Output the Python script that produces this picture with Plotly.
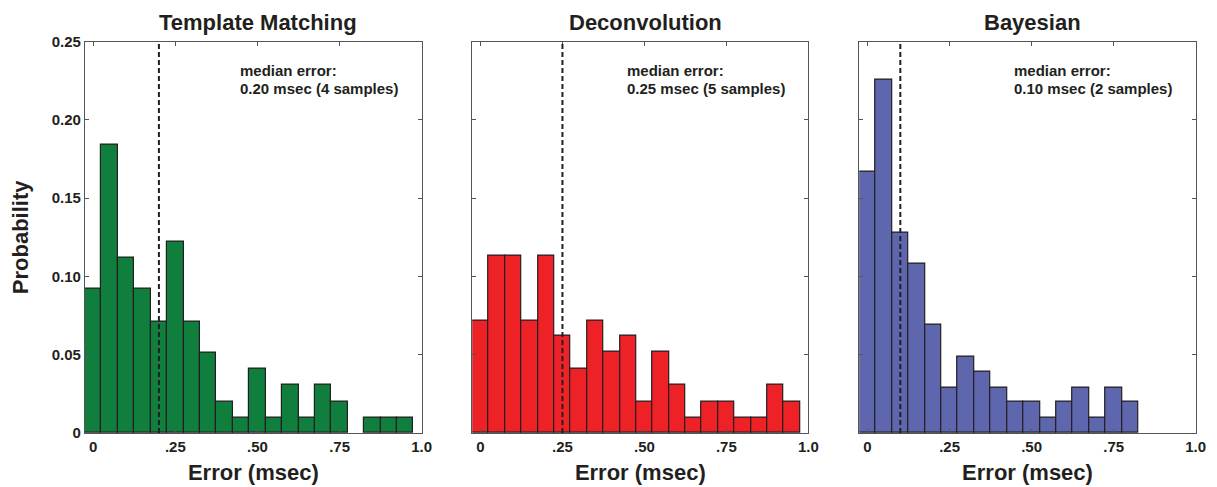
import plotly.graph_objects as go

bin_centers = [round(0.05 * i, 2) for i in range(20)]

titles = ["Template Matching", "Deconvolution", "Bayesian"]
template_matching = [0.092, 0.184, 0.112, 0.092, 0.071, 0.122, 0.071, 0.051, 0.020, 0.010,
                     0.041, 0.010, 0.031, 0.010, 0.031, 0.020, 0.0, 0.010, 0.010, 0.010]
deconvolution = [0.072, 0.113, 0.113, 0.072, 0.113, 0.062, 0.041, 0.072, 0.052, 0.062,
                 0.020, 0.052, 0.031, 0.010, 0.020, 0.020, 0.010, 0.010, 0.031, 0.020]
bayesian = [0.167, 0.226, 0.128, 0.108, 0.069, 0.029, 0.049, 0.039, 0.029, 0.020,
            0.020, 0.010, 0.020, 0.029, 0.010, 0.029, 0.020, 0.0, 0.0, 0.0]
series = [template_matching, deconvolution, bayesian]
colors = ["#107F3E", "#EE2127", "#5E66AE"]
medians = [0.20, 0.25, 0.10]
median_text = ["0.20 msec (4 samples)", "0.25 msec (5 samples)", "0.10 msec (2 samples)"]

x_tickvals = [0, 0.25, 0.5, 0.75, 1.0]
x_ticktext = ["0", ".25", ".50", ".75", "1.0"]
y_tickvals = [0, 0.05, 0.10, 0.15, 0.20, 0.25]
y_ticktext = ["0", "0.05", "0.10", "0.15", "0.20", "0.25"]

W, H = 1217, 487
OFF = 8  # page body margin offset
x_domains_px = [(85 - OFF, 421.7 - OFF), (472.3 - OFF, 808.3 - OFF), (859.3 - OFF, 1195.7 - OFF)]
y_domain = [1 - (433 - OFF) / H, 1 - (41.7 - OFF) / H]

FONT = "Liberation Sans, Arial, sans-serif"
INK = "#231F20"
fig = go.Figure()
layout = dict(
    width=W, height=H,
    margin=dict(l=0, r=0, t=0, b=0),
    paper_bgcolor="white", plot_bgcolor="white",
    showlegend=False, bargap=0,
    font=dict(family=FONT, color=INK),
    annotations=[], shapes=[],
)

for i in range(3):
    xa = "x" if i == 0 else f"x{i+1}"
    ya = "y" if i == 0 else f"y{i+1}"
    xkey = "xaxis" if i == 0 else f"xaxis{i+1}"
    ykey = "yaxis" if i == 0 else f"yaxis{i+1}"
    # empty bins are simply not drawn
    yvals = [v if v > 0 else None for v in series[i]]
    fig.add_trace(go.Bar(
        x=bin_centers, y=yvals, width=0.05,
        marker=dict(color=colors[i], line=dict(color=INK, width=1.2)),
        xaxis=xa, yaxis=ya, hoverinfo="x+y",
    ))
    d = x_domains_px[i]
    layout[xkey] = dict(
        domain=[d[0] / W, d[1] / W], range=[-0.025, 1.0], anchor=ya,
        tickvals=x_tickvals, ticktext=x_ticktext, ticks="inside", ticklen=4,
        tickcolor="#555", showline=True, linecolor="#555", linewidth=1.2,
        mirror="ticks", showgrid=False, zeroline=False, automargin=False,
        tickfont=dict(family=FONT, size=15, color=INK, weight="bold"),
        title=dict(text="<b>Error (msec)</b>", standoff=10,
                   font=dict(family=FONT, size=22, color=INK)),
    )
    layout[ykey] = dict(
        domain=y_domain, range=[0, 0.25], anchor=xa,
        tickvals=y_tickvals, ticktext=y_ticktext,
        showticklabels=(i == 0), ticks="inside", ticklen=4, tickcolor="#555",
        showline=True, linecolor="#555", linewidth=1.2, mirror="ticks",
        showgrid=False, zeroline=False, automargin=False,
        tickfont=dict(family=FONT, size=15, color=INK, weight="bold"),
    )
    if i == 0:
        layout[ykey]["title"] = dict(text="<b>Probability</b>", standoff=22,
                                     font=dict(family=FONT, size=22, color=INK))
    layout["shapes"].append(dict(
        type="line", xref=xa, yref=ya, x0=medians[i], x1=medians[i], y0=0, y1=0.25,
        line=dict(color=INK, width=2, dash="5px,3px"), layer="above",
    ))
    layout["annotations"].append(dict(
        text=f"<b>{titles[i]}</b>", xref="paper", yref="paper",
        x=(d[0] + d[1]) / 2 / W + 0.004, y=1.0, xanchor="center", yanchor="top",
        showarrow=False, font=dict(family=FONT, size=22, color=INK),
    ))
    layout["annotations"].append(dict(
        text="<b>median error:</b>", xref=xa, yref=ya, x=0.44, y=0.2313,
        xanchor="left", yanchor="middle", showarrow=False,
        font=dict(family=FONT, size=15, color=INK),
    ))
    layout["annotations"].append(dict(
        text=f"<b>{median_text[i]}</b>", xref=xa, yref=ya, x=0.44, y=0.2198,
        xanchor="left", yanchor="middle", showarrow=False,
        font=dict(family=FONT, size=15, color=INK),
    ))

fig.update_layout(**layout)
fig.write_html("out.html")
